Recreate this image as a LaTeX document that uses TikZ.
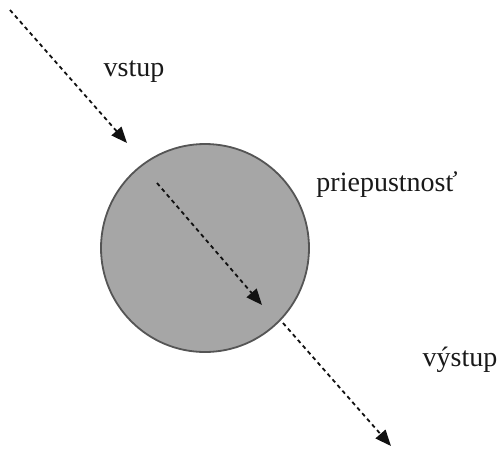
\documentclass[tikz,border=0pt]{standalone}
\usepackage{fontspec}
\setmainfont{Liberation Serif}
\usetikzlibrary{arrows.meta}
\definecolor{cellfill}{HTML}{A6A6A6}
\definecolor{cellline}{HTML}{555555}
\definecolor{arrowcol}{HTML}{111111}
\tikzset{
  flow/.style={draw=arrowcol, line width=1.8pt, dash pattern=on 4pt off 3.5pt,
    -{Triangle[length=16pt,width=13pt]}},
  lbl/.style={font=\fontsize{28}{32}\selectfont, text=black!90, inner sep=0pt},
  cell/.style={circle, draw=cellline, fill=cellfill, line width=1.8pt, minimum size=208pt, inner sep=0pt}
}
\begin{document}
\begin{tikzpicture}[x=1pt,y=-1pt]
\useasboundingbox (0,0) rectangle (500,451);
\node[cell] (cell) at (205,248) {};
\coordinate (inA) at (10,10);
\coordinate (inB) at (127,143);
\coordinate (midA) at (157,183);
\coordinate (midB) at (262,305);
\coordinate (outA) at (283,323);
\coordinate (outB) at (391,446);
\draw[flow] (inA) -- (inB);
\draw[flow] (midA) -- (midB);
\draw[flow] (outA) -- (outB);
\node[lbl] (vstup) at (134,72) {vstup};
\node[lbl] (priep) at (387,185) {priepustnosť};
\node[lbl] (vystup) at (460,360) {výstup};
\end{tikzpicture}
\end{document}
